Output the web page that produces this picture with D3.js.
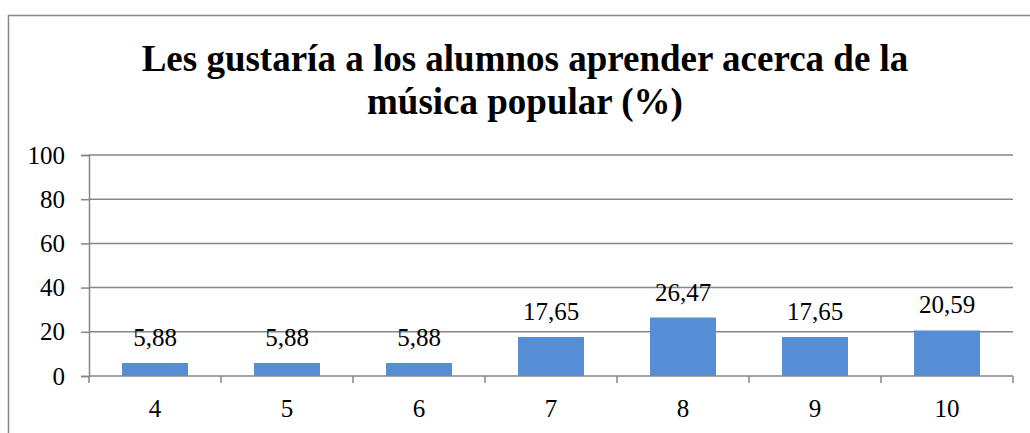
<!DOCTYPE html>
<html>
<head>
<meta charset="utf-8">
<script src="https://cdn.jsdelivr.net/npm/d3@7"></script>
<style>
  body { margin: 0; background: #fff; }
</style>
</head>
<body>
<svg width="1030" height="433" font-family="Liberation Serif"></svg>
<script>
// data
var categories = ['4', '5', '6', '7', '8', '9', '10'];
var values = [5.88, 5.88, 5.88, 17.65, 26.47, 17.65, 20.59];
var yTicks = [0, 20, 40, 60, 80, 100];
var titleLines = ['Les gustaría a los alumnos aprender acerca de la', 'música popular (%)'];

var font = "'Liberation Serif'";
var svg = d3.select('svg');

// outer chart border (runs off the right and bottom of the picture)
svg.append('rect')
    .attr('x', 8.5).attr('y', 15.5)
    .attr('width', 1040).attr('height', 440)
    .attr('fill', 'none')
    .attr('stroke', '#868686')
    .attr('stroke-width', 1.5);

var xScale = d3.scaleBand()
    .domain(categories).range([89, 1013])
    .paddingInner(0.5).paddingOuter(0.25);

var yScale = d3.scaleLinear()
    .domain([0, 100]).range([376, 155]);

// y axis
var yAxis = svg.append('g')
    .attr('transform', 'translate(89,0)')
    .call(d3.axisLeft(yScale).tickValues(yTicks).tickSize(8).tickPadding(16));
yAxis.attr('font-family', 'Liberation Serif').attr('font-size', 25);
yAxis.select('.domain').attr('stroke', '#868686').attr('stroke-width', 1.5);
yAxis.selectAll('.tick line').attr('stroke', '#868686').attr('stroke-width', 1.5);
yAxis.selectAll('.tick text')
    .style('font-family', font)
    .attr('fill', '#000');

// gridlines
svg.append('g').selectAll('line.grid')
    .data(yTicks.filter(function (d) { return d > 0; }))
    .enter().append('line')
    .attr('class', 'grid')
    .attr('x1', 89).attr('x2', 1013)
    .attr('y1', function (d) { return yScale(d); })
    .attr('y2', function (d) { return yScale(d); })
    .attr('stroke', '#868686')
    .attr('stroke-width', 1.5);

// bars
svg.append('g').selectAll('rect')
    .data(values)
    .enter().append('rect')
    .attr('x', function (d, i) { return xScale(categories[i]); })
    .attr('y', function (d) { return yScale(d); })
    .attr('width', xScale.bandwidth())
    .attr('height', function (d) { return yScale(0) - yScale(d); })
    .attr('fill', '#558ED5');

// x axis with tick marks at category boundaries
var step = xScale.step();
var xAxis = svg.append('g')
    .attr('transform', 'translate(0,376)');
xAxis.append('line')
    .attr('x1', 89).attr('x2', 1013)
    .attr('stroke', '#868686').attr('stroke-width', 1.5);
xAxis.selectAll('line.tk')
    .data(d3.range(categories.length + 1))
    .enter().append('line')
    .attr('class', 'tk')
    .attr('x1', function (i) { return 89 + i * step; })
    .attr('x2', function (i) { return 89 + i * step; })
    .attr('y1', 0).attr('y2', 7)
    .attr('stroke', '#868686').attr('stroke-width', 1.5);
xAxis.selectAll('text')
    .data(categories)
    .enter().append('text')
    .attr('x', function (d) { return xScale(d) + xScale.bandwidth() / 2; })
    .attr('y', 41)
    .attr('text-anchor', 'middle')
    .attr('font-size', 25)
    .style('font-family', font)
    .text(function (d) { return d; });

// value labels
svg.append('g').selectAll('text')
    .data(values)
    .enter().append('text')
    .attr('x', function (d, i) { return xScale(categories[i]) + xScale.bandwidth() / 2; })
    .attr('y', function (d) { return yScale(d) - 17; })
    .attr('text-anchor', 'middle')
    .attr('font-size', 25)
    .style('font-family', font)
    .text(function (d) { return d.toFixed(2).replace('.', ','); });

// title
svg.append('g').selectAll('text')
    .data(titleLines)
    .enter().append('text')
    .attr('x', 525)
    .attr('y', function (d, i) { return 71 + i * 43; })
    .attr('text-anchor', 'middle')
    .attr('font-size', 37)
    .attr('font-weight', 'bold')
    .style('font-family', font)
    .text(function (d) { return d; });
</script>
</body>
</html>
